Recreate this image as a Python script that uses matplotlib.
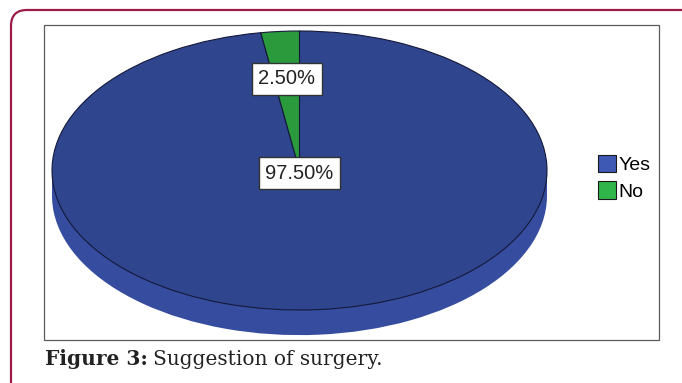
import numpy as np
import matplotlib.pyplot as plt
from matplotlib.patches import FancyBboxPatch, Rectangle, Patch

# chart data
labels = ['Yes', 'No']
shares = [97.5, 2.5]
top_colors = ['#2f458e', '#2a9a3c']
side_colors = ['#354c9f', '#2a9a3c']
legend_colors = ['#3d59b3', '#2fb54a']
caption_bold = 'Figure 3:'
caption_text = 'Suggestion of surgery.'

W, H = 682, 383
fig = plt.figure(figsize=(W / 100, H / 100), dpi=100)

# background layer, in pixel coordinates
bg = fig.add_axes([0, 0, 1, 1])
bg.set_xlim(0, W)
bg.set_ylim(H, 0)
bg.axis('off')

bg.add_patch(FancyBboxPatch((11, 10), 720, 420, boxstyle='round,pad=0,rounding_size=16',
                            fc='white', ec='#9b1d45', lw=1.6))
bg.add_patch(Rectangle((44, 25), 615, 315, fc='white', ec='#5a5a5a', lw=0.9))

# pie axes: ellipse centre and radii in pixels
cx, cy, rx, ry = 299.5, 170.5, 247.5, 139.5
thick = 0.18
pad = 0.03
x0, x1 = -1 - pad, 1 + pad
y0, y1 = -1 - thick - pad, 1 + pad
left = cx + x0 * rx
top = cy - y1 * ry
pie_ax = fig.add_axes([left / W, 1 - (top + (y1 - y0) * ry) / H,
                       (x1 - x0) * rx / W, (y1 - y0) * ry / H])
pie_ax.patch.set_visible(False)

# side of the disc
pie_ax.pie(shares, colors=side_colors, startangle=90, counterclock=False,
           center=(0, -thick), wedgeprops=dict(lw=0))
pie_ax.add_patch(Rectangle((-1, -thick), 2, thick, fc=side_colors[0], lw=0))

# top face
wedges, _, pcts = pie_ax.pie(shares, colors=top_colors, startangle=90, counterclock=False,
                             autopct='%.2f%%', pctdistance=0.66,
                             wedgeprops=dict(ec='#15193a', lw=0.8),
                             textprops=dict(fontsize=14.5, family='Liberation Sans', color='#222222',
                                            bbox=dict(boxstyle='square,pad=0.32', fc='white',
                                                      ec='#333333', lw=1)))
pcts[0].set_position((0, -0.02))
pie_ax.set_aspect('auto')
pie_ax.set_xlim(x0, x1)
pie_ax.set_ylim(y0, y1)

handles = [Patch(fc=c, ec='#1a1a1a', lw=0.8) for c in legend_colors]
fig.legend(handles, labels, loc='upper left', bbox_to_anchor=(598 / W, 1 - 155 / H), frameon=False,
           prop=dict(family='Liberation Sans', size=14), handlelength=0.9, handleheight=1.0,
           handletextpad=0.15, labelspacing=0.35, borderpad=0, borderaxespad=0)

# caption
t1 = bg.text(45, 365, caption_bold, fontsize=14.5, fontweight='bold', family='DejaVu Serif',
             color='#222222', va='baseline')
bg.annotate(caption_text, xy=(1, 0), xycoords=t1, xytext=(4, 0), textcoords='offset points',
            fontsize=14.5, family='DejaVu Serif', color='#222222', va='bottom')

fig.savefig('out.png', dpi=100)
